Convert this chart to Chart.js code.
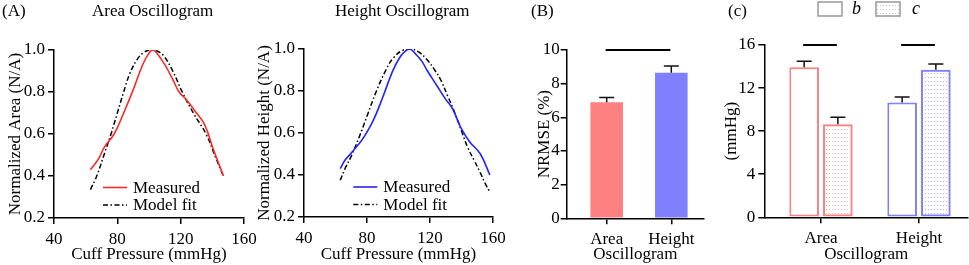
<!DOCTYPE html>
<html>
<head>
<meta charset="utf-8">
<script src="https://cdn.jsdelivr.net/npm/chart.js@4.4.1/dist/chart.umd.min.js"></script>
<style>
  body { margin: 0; background: #fff; }
  #wrap { position: relative; width: 969px; height: 265px; overflow: hidden; }
  #wrap canvas { position: absolute; left: 0; top: 0; }
  .lbl { position: absolute; font-family: 'Liberation Serif', 'Times New Roman', serif; font-size: 17px; color: #000; white-space: nowrap; line-height: 20px; }
</style>
</head>
<body>
<div id="wrap">
  <canvas id="areaChart" width="969" height="265"></canvas>
  <canvas id="heightChart" width="969" height="265"></canvas>
  <canvas id="nrmseChart" width="969" height="265"></canvas>
  <canvas id="errChart" width="969" height="265"></canvas>
  <div class="lbl" style="left:2px; top:1px;">(A)</div>
  <div class="lbl" style="left:92px; top:1px;">Area Oscillogram</div>
  <div class="lbl" style="left:335px; top:1px;">Height Oscillogram</div>
  <div class="lbl" style="left:531px; top:1px;">(B)</div>
  <div class="lbl" style="left:728px; top:1px;">(c)</div>
</div>
<script>
// --- panel A: area oscillogram (cuff pressure mmHg / normalized) ---
var areaMeasX = [63, 68, 72, 78, 84, 90, 96, 100, 102.5, 105, 110, 115, 119, 124, 129, 134, 137, 140, 144, 147];
var areaMeasY = [0.43, 0.48, 0.54, 0.60, 0.70, 0.81, 0.93, 0.985, 1.0, 0.985, 0.93, 0.86, 0.80, 0.76, 0.71, 0.66, 0.61, 0.54, 0.46, 0.40];
var areaFitX = [63, 67, 72, 76, 80, 84, 88, 93, 97, 101, 105, 109, 115, 121, 128, 136, 142, 147];
var areaFitY = [0.335, 0.40, 0.51, 0.60, 0.70, 0.80, 0.89, 0.96, 0.99, 1.0, 0.995, 0.975, 0.90, 0.80, 0.70, 0.60, 0.49, 0.40];

// --- panel A: height oscillogram ---
var heightMeasX = [63, 66, 70, 74, 78, 84, 90, 96, 100, 103, 107, 111, 115, 118, 124, 130, 134, 137, 140, 145, 152, 158];
var heightMeasY = [0.43, 0.47, 0.505, 0.54, 0.58, 0.66, 0.77, 0.89, 0.95, 0.98, 1.0, 0.975, 0.94, 0.90, 0.83, 0.76, 0.72, 0.67, 0.62, 0.56, 0.50, 0.40];
var heightFitX = [63, 66, 70, 75, 80, 86, 92, 97, 103, 108, 113, 118, 123, 127, 131, 135, 140, 144, 148, 152, 155, 158];
var heightFitY = [0.375, 0.43, 0.49, 0.58, 0.68, 0.80, 0.90, 0.96, 0.995, 1.0, 0.985, 0.95, 0.90, 0.85, 0.78, 0.71, 0.61, 0.53, 0.47, 0.41, 0.36, 0.32];

// --- panel B: NRMSE ---
var oscCategories = ['Area', 'Height'];
var nrmse = [6.9, 8.65];
var nrmseErr = [0.28, 0.4];
var nrmseSig = 10;

// --- panel C: error (mmHg), b and c ---
var errB = [13.93, 10.65];
var errBsd = [0.55, 0.52];
var errC = [8.63, 13.71];
var errCsd = [0.65, 0.53];
var errSig = 16;

var serif = "'Liberation Serif', 'Times New Roman', serif";
Chart.defaults.font.family = serif;
Chart.defaults.font.size = 17;
Chart.defaults.color = '#000';
Chart.defaults.animation = false;

var RED = 'rgb(255,40,40)';
var BLUE = 'rgb(35,35,255)';
var LRED = 'rgb(255,128,128)';
var LBLUE = 'rgb(128,128,255)';

function toPoints(xs, ys) {
    return xs.map(function (x, i) { return { x: x, y: ys[i] }; });
}

function dots(color) {
    var c = document.createElement('canvas');
    c.width = 3; c.height = 4;
    var g = c.getContext('2d');
    g.fillStyle = color;
    g.fillRect(1, 1, 1, 1);
    return g.createPattern(c, 'repeat');
}

function axisBase() {
    return {
        border: { display: true, color: '#000', width: 1.5 },
        grid: { drawOnChartArea: false, drawTicks: true, tickLength: 6, color: '#000', lineWidth: 1.5, offset: false }
    };
}

// legend drawn inside the plot area (panel A)
var lineLegend = {
    id: 'lineLegend',
    afterDraw: function (chart, args, opts) {
        var ctx = chart.ctx;
        ctx.save();
        ctx.font = '17px ' + serif;
        ctx.textBaseline = 'middle';
        chart.data.datasets.forEach(function (ds, i) {
            var y = opts.y + i * 17.5;
            ctx.strokeStyle = ds.borderColor;
            ctx.lineWidth = ds.borderWidth;
            ctx.setLineDash(ds.borderDash || []);
            ctx.beginPath();
            ctx.moveTo(opts.x, y);
            ctx.lineTo(opts.x + 24, y);
            ctx.stroke();
            ctx.setLineDash([]);
            ctx.fillStyle = '#000';
            ctx.fillText(ds.label, opts.x + 30, y + 1);
        });
        ctx.restore();
    }
};

// upper error whiskers + significance bars
var barExtras = {
    id: 'barExtras',
    afterDatasetsDraw: function (chart, args, opts) {
        var ctx = chart.ctx;
        var yScale = chart.scales.y;
        ctx.save();
        ctx.strokeStyle = '#111';
        ctx.lineWidth = 1.5;
        chart.data.datasets.forEach(function (ds, di) {
            var meta = chart.getDatasetMeta(di);
            meta.data.forEach(function (bar, i) {
                var top = yScale.getPixelForValue(ds.data[i].y + ds.errors[i]);
                ctx.beginPath();
                ctx.moveTo(bar.x, bar.y);
                ctx.lineTo(bar.x, top);
                ctx.moveTo(bar.x - 7.5, top);
                ctx.lineTo(bar.x + 7.5, top);
                ctx.stroke();
            });
        });
        ctx.lineWidth = 2;
        ctx.strokeStyle = '#000';
        (opts.sig || []).forEach(function (s) {
            var a = chart.getDatasetMeta(s.from[0]).data[s.from[1]];
            var b = chart.getDatasetMeta(s.to[0]).data[s.to[1]];
            var y = yScale.getPixelForValue(s.level);
            ctx.beginPath();
            ctx.moveTo(a.x - 1, y);
            ctx.lineTo(b.x - 1, y);
            ctx.stroke();
        });
        if (opts.boxLegend) {
            var L = opts.boxLegend;
            ctx.lineWidth = 1.5;
            ctx.strokeStyle = '#999';
            ctx.fillStyle = '#fff';
            ctx.fillRect(L.x, L.y, 24, 14);
            ctx.strokeRect(L.x, L.y, 24, 14);
            ctx.fillStyle = dots('#c4c4c4');
            ctx.fillRect(L.x + 58, L.y, 24, 14);
            ctx.strokeRect(L.x + 58, L.y, 24, 14);
            ctx.fillStyle = '#000';
            ctx.font = 'italic 18px ' + serif;
            ctx.textBaseline = 'middle';
            ctx.fillText('b', L.x + 34, L.y + 7);
            ctx.fillText('c', L.x + 94, L.y + 7);
        }
        ctx.restore();
    }
};

function lineChart(id, pad, yWidth, xHeight, yTitle, meas, fit, measColor, legendPos) {
    var x = axisBase();
    x.type = 'linear';
    x.min = 40; x.max = 160;
    x.ticks = { stepSize: 40, padding: 5 };
    x.title = { display: true, text: 'Cuff Pressure (mmHg)', padding: { top: 0, bottom: 0 } };
    x.afterFit = function (s) { s.height = xHeight; };
    var y = axisBase();
    y.min = 0.2; y.max = 1.0;
    y.ticks = { stepSize: 0.2, padding: 3, callback: function (v) { return v.toFixed(1); } };
    y.title = { display: true, text: yTitle, padding: { top: 3, bottom: 0 } };
    y.afterFit = function (s) { s.width = yWidth; };
    return new Chart(document.getElementById(id), {
        type: 'scatter',
        data: {
            datasets: [{
                label: 'Measured',
                data: meas,
                showLine: true,
                borderColor: measColor,
                borderWidth: 1.6,
                pointRadius: 0,
                tension: 0.4
            }, {
                label: 'Model fit',
                data: fit,
                showLine: true,
                borderColor: '#000',
                borderWidth: 1.5,
                borderDash: [5, 2.5, 1.5, 2.5],
                pointRadius: 0,
                tension: 0.4
            }]
        },
        options: {
            responsive: false,
            layout: { padding: pad },
            plugins: { legend: { display: false }, tooltip: { enabled: false }, lineLegend: legendPos },
            scales: { x: x, y: y }
        },
        plugins: [lineLegend]
    });
}

lineChart('areaChart', { left: 2, top: 50, right: 725, bottom: 0 }, 52, 47,
    'Normalized Area (N/A)', toPoints(areaMeasX, areaMeasY), toPoints(areaFitX, areaFitY), RED, { x: 103, y: 187.5 });
lineChart('heightChart', { left: 251.4, top: 49, right: 476, bottom: 0 }, 52.6, 48,
    'Normalized Height (N/A)', toPoints(heightMeasX, heightMeasY), toPoints(heightFitX, heightFitY), BLUE, { x: 353.3, y: 187 });

function catPoints(vals) {
    return vals.map(function (v, i) { return { x: i, y: v }; });
}

function barX(min, max, xHeight) {
    var x = axisBase();
    x.type = 'linear';
    x.offset = false;
    x.bounds = 'data';
    x.min = min; x.max = max;
    x.afterBuildTicks = function (s) {
        s.ticks = oscCategories.map(function (c, i) { return { value: i }; });
        s.min = min; s.max = max;
    };
    x.ticks = { padding: 5, callback: function (v) { return oscCategories[v]; } };
    x.title = { display: true, text: 'Oscillogram', padding: { top: 0, bottom: 0 } };
    x.afterFit = function (s) { s.height = xHeight; };
    return x;
}

function barY(max, step, title, yWidth, tickPad) {
    var y = axisBase();
    y.min = 0; y.max = max;
    y.ticks = { stepSize: step, padding: tickPad };
    y.title = { display: true, text: title, padding: { top: 3, bottom: 0 } };
    y.afterFit = function (s) { s.width = yWidth; };
    return y;
}

new Chart(document.getElementById('nrmseChart'), {
    type: 'bar',
    data: {
        datasets: [{
            data: catPoints(nrmse),
            errors: nrmseErr,
            backgroundColor: [LRED, LBLUE],
            borderWidth: 0,
            categoryPercentage: 0.8,
            barPercentage: 0.63
        }]
    },
    options: {
        responsive: false,
        layout: { padding: { left: 531.4, top: 50, right: 265, bottom: 0 } },
        plugins: {
            legend: { display: false }, tooltip: { enabled: false },
            barExtras: { sig: [{ from: [0, 0], to: [0, 1], level: nrmseSig }] }
        },
        scales: { x: barX(-0.619, 1.506, 46.7), y: barY(10, 2, 'NRMSE (%)', 35.3, 1) }
    },
    plugins: [barExtras]
});

new Chart(document.getElementById('errChart'), {
    type: 'bar',
    data: {
        datasets: [{
            label: 'b',
            data: catPoints(errB),
            errors: errBsd,
            backgroundColor: '#fff',
            borderColor: [LRED, LBLUE],
            borderWidth: 2,
            borderSkipped: false,
            categoryPercentage: 0.688,
            barPercentage: 0.88
        }, {
            label: 'c',
            data: catPoints(errC),
            errors: errCsd,
            backgroundColor: [dots('rgb(255,175,175)'), dots('rgb(175,175,255)')],
            borderColor: [LRED, LBLUE],
            borderWidth: 2,
            borderSkipped: false,
            categoryPercentage: 0.688,
            barPercentage: 0.88
        }]
    },
    options: {
        responsive: false,
        layout: { padding: { left: 718.1, top: 45, right: 1, bottom: 0 } },
        plugins: {
            legend: { display: false }, tooltip: { enabled: false },
            barExtras: {
                sig: [{ from: [0, 0], to: [1, 0], level: errSig }, { from: [0, 1], to: [1, 1], level: errSig }],
                boxLegend: { x: 818, y: 2 }
            }
        },
        scales: { x: barX(-0.5786, 1.5, 47.7), y: barY(16, 4, '(mmHg)', 46.2, 3) }
    },
    plugins: [barExtras]
});
</script>
</body>
</html>
